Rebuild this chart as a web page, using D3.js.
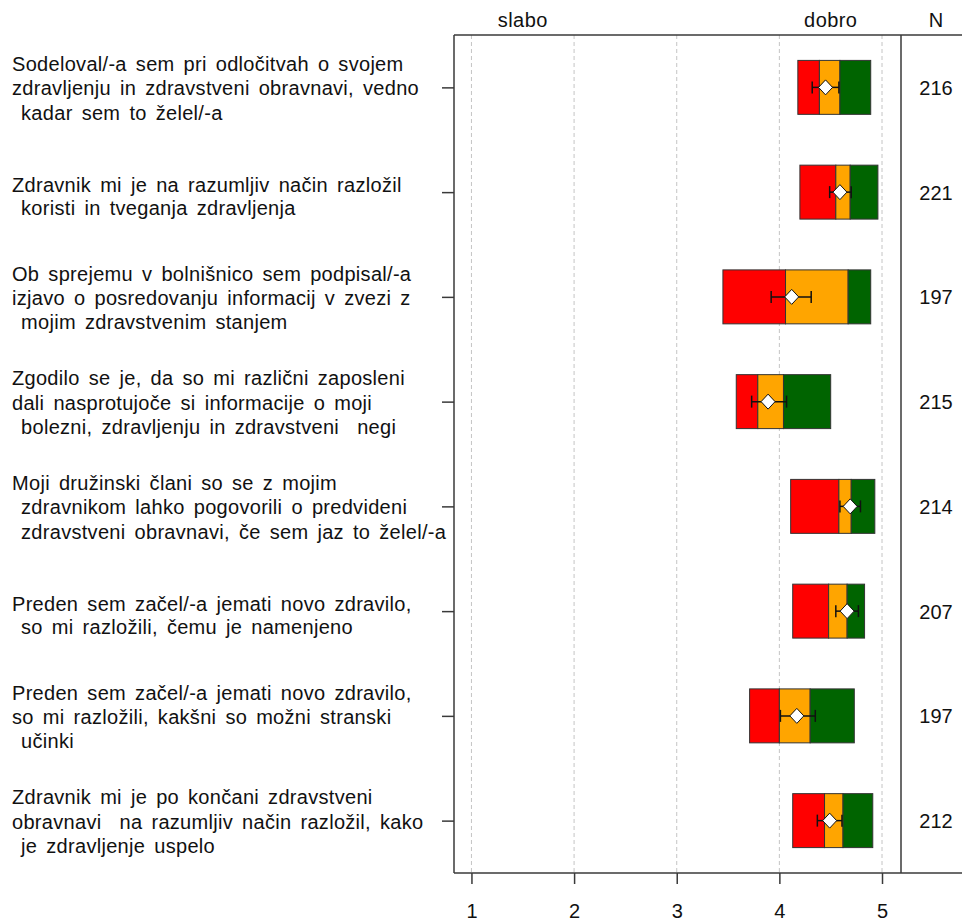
<!DOCTYPE html>
<html>
<head>
<meta charset="utf-8">
<script src="https://cdn.jsdelivr.net/npm/d3@7"></script>
<style>
  html, body { margin: 0; padding: 0; background: #fff; }
  svg { display: block; }
  text { font-family: "Liberation Sans", Arial, sans-serif; fill: #111; }
</style>
</head>
<body>
<svg id="chart" width="962" height="922"></svg>
<script>
// ---- data ----
const labels = [
  ["Sodeloval/-a sem pri odločitvah o svojem", "zdravljenju in zdravstveni obravnavi, vedno", " kadar sem to želel/-a"],
  ["Zdravnik mi je na razumljiv način razložil", " koristi in tveganja zdravljenja"],
  ["Ob sprejemu v bolnišnico sem podpisal/-a", "izjavo o posredovanju informacij v zvezi z", " mojim zdravstvenim stanjem"],
  ["Zgodilo se je, da so mi različni zaposleni", "dali nasprotujoče si informacije o moji", " bolezni, zdravljenju in zdravstveni  negi"],
  ["Moji družinski člani so se z mojim", " zdravnikom lahko pogovorili o predvideni", " zdravstveni obravnavi, če sem jaz to želel/-a"],
  ["Preden sem začel/-a jemati novo zdravilo,", " so mi razložili, čemu je namenjeno"],
  ["Preden sem začel/-a jemati novo zdravilo,", "so mi razložili, kakšni so možni stranski", " učinki"],
  ["Zdravnik mi je po končani zdravstveni", "obravnavi  na razumljiv način razložil, kako", " je zdravljenje uspelo"]
];
const lowVals  = [4.18, 4.20, 3.45, 3.58, 4.11, 4.13, 3.71, 4.13];
const q1Vals   = [4.39, 4.55, 4.06, 3.79, 4.58, 4.48, 4.00, 4.44];
const q2Vals   = [4.59, 4.69, 4.67, 4.04, 4.70, 4.66, 4.30, 4.62];
const highVals = [4.89, 4.96, 4.89, 4.50, 4.93, 4.83, 4.73, 4.91];
const means    = [4.45, 4.59, 4.12, 3.89, 4.69, 4.66, 4.17, 4.49];
const ciLow    = [4.32, 4.49, 3.92, 3.73, 4.59, 4.55, 4.01, 4.37];
const ciHigh   = [4.58, 4.70, 4.31, 4.07, 4.79, 4.77, 4.35, 4.61];
const nVals    = [216, 221, 197, 215, 214, 207, 197, 212];
const xTicks   = [1, 2, 3, 4, 5];
const headers  = [{text: "slabo", v: 1.5}, {text: "dobro", v: 4.5}];
const segColors = ["#FF0000", "#FFA500", "#006400"];

// ---- layout ----
const pLeft = 454, pRight = 901, pTop = 35, pBottom = 873, nX = 936;
const svg = d3.select("#chart");

const x = d3.scaleLinear().domain([0.83, 5.185]).range([pLeft, pRight]);
const idx = labels.map((d, i) => i);
const yBand = d3.scaleBand().domain(idx).range([pTop, pBottom]).paddingInner(0.485).paddingOuter(0.2425);
const yC = i => yBand(i) + yBand.bandwidth() / 2;

// grid
svg.append("g").selectAll("line").data(xTicks).join("line")
  .attr("x1", d => x(d)).attr("x2", d => x(d))
  .attr("y1", pTop).attr("y2", pBottom)
  .attr("stroke", "#c4c4c4").attr("stroke-width", 1).attr("stroke-dasharray", "4,3");

// bars
const segs = [];
idx.forEach(i => {
  const b = [lowVals[i], q1Vals[i], q2Vals[i], highVals[i]];
  for (let k = 0; k < 3; k++) segs.push({i, k, a: b[k], b: b[k + 1]});
});
svg.append("g").selectAll("rect").data(segs).join("rect")
  .attr("x", d => x(d.a)).attr("width", d => x(d.b) - x(d.a))
  .attr("y", d => yBand(d.i)).attr("height", yBand.bandwidth())
  .attr("fill", d => segColors[d.k]).attr("stroke", "#333").attr("stroke-width", 1);

// error bars
const eb = svg.append("g").attr("stroke", "#111").attr("stroke-width", 1.5);
idx.forEach(i => {
  const c = yC(i);
  eb.append("line").attr("x1", x(ciLow[i])).attr("x2", x(ciHigh[i])).attr("y1", c).attr("y2", c);
  eb.append("line").attr("x1", x(ciLow[i])).attr("x2", x(ciLow[i])).attr("y1", c - 6).attr("y2", c + 6);
  eb.append("line").attr("x1", x(ciHigh[i])).attr("x2", x(ciHigh[i])).attr("y1", c - 6).attr("y2", c + 6);
});

// diamonds
svg.append("g").selectAll("path").data(idx).join("path")
  .attr("d", i => {
    const cx = x(means[i]), cy = yC(i);
    return `M${cx},${cy - 7.5}L${cx + 7},${cy}L${cx},${cy + 7.5}L${cx - 7},${cy}Z`;
  })
  .attr("fill", "#fff").attr("stroke", "#111").attr("stroke-width", 1);

// frame
const frame = svg.append("g").attr("stroke", "#3a3a3a").attr("stroke-width", 1.5).attr("fill", "none");
frame.append("line").attr("x1", pLeft).attr("x2", 962).attr("y1", pTop).attr("y2", pTop);
frame.append("line").attr("x1", pLeft).attr("x2", 962).attr("y1", pBottom).attr("y2", pBottom);
frame.append("line").attr("x1", pLeft).attr("x2", pLeft).attr("y1", pTop).attr("y2", pBottom);
frame.append("line").attr("x1", pRight).attr("x2", pRight).attr("y1", pTop).attr("y2", pBottom);

// x axis
const xAxis = svg.append("g").attr("transform", `translate(0,${pBottom})`)
  .call(d3.axisBottom(x).tickValues(xTicks).tickFormat(d3.format("d")).tickSize(11).tickPadding(20));
xAxis.select(".domain").remove();
xAxis.selectAll(".tick line").attr("stroke", "#3a3a3a").attr("stroke-width", 1.5);
xAxis.selectAll(".tick text").attr("font-size", "20px").attr("font-family", "Liberation Sans, Arial, sans-serif").attr("fill", "#111");

// y axis ticks
const yAxis = svg.append("g").attr("transform", `translate(${pLeft},0)`)
  .call(d3.axisLeft(d3.scalePoint().domain(idx).range([yC(0), yC(idx.length - 1)])).tickFormat("").tickSize(12));
yAxis.select(".domain").remove();
yAxis.selectAll(".tick line").attr("stroke", "#3a3a3a").attr("stroke-width", 1.5);

// headers
svg.append("g").selectAll("text").data(headers).join("text")
  .attr("x", d => x(d.v)).attr("y", 27).attr("text-anchor", "middle")
  .attr("font-size", "20px").attr("letter-spacing", "0.4px").text(d => d.text);
svg.append("text").attr("x", nX).attr("y", 27).attr("text-anchor", "middle").attr("font-size", "20px").text("N");

// N values
svg.append("g").selectAll("text").data(idx).join("text")
  .attr("x", nX).attr("y", i => yC(i) + 7.5).attr("text-anchor", "middle")
  .attr("font-size", "20px").text(i => nVals[i]);

// labels
const lg = svg.append("g");
idx.forEach(i => {
  const lines = labels[i], n = lines.length;
  const off = n === 2 ? 3.5 : 0;
  const step = n === 2 ? 23.5 : 24.2;
  lines.forEach((t, k) => {
    lg.append("text")
      .attr("x", 12)
      .attr("y", yC(i) + 8 + step * (k - (n - 1) / 2) + off)
      .attr("font-size", "20px")
      .attr("letter-spacing", "0.3px")
      .attr("word-spacing", "3.2px")
      .style("white-space", "pre")
      .text(t);
  });
});
</script>
</body>
</html>
